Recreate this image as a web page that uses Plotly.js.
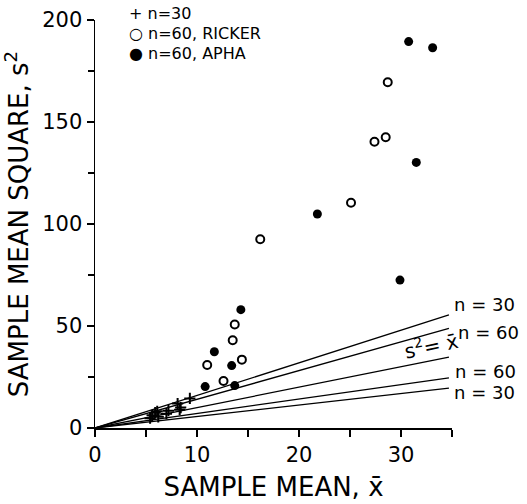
<!DOCTYPE html>
<html>
<head>
<meta charset="utf-8">
<script src="https://cdn.plot.ly/plotly-3.0.1.min.js"></script>
<style>html,body{margin:0;padding:0;background:#fff;}#chart{width:527px;height:504px;}</style>
</head>
<body>
<div id="chart"></div>
<script>
// n=30 samples (crosses)
const n30X = [5.4, 5.6, 5.9, 6.2, 6.1, 7.0, 7.2, 8.1, 8.4, 8.3, 9.3];
const n30Y = [4.8, 6.2, 7.5, 5.5, 8.2, 7.0, 8.5, 12.0, 10.0, 9.0, 14.5];
// n=60, Ricker (open circles)
const rickerX = [11.0, 12.6, 13.5, 13.7, 14.4, 16.2, 25.1, 27.4, 28.5, 28.7];
const rickerY = [30.9, 23.0, 43.0, 50.7, 33.5, 92.5, 110.4, 140.3, 142.5, 169.5];
// n=60, APHA (filled circles)
const aphaX = [10.8, 11.7, 13.4, 13.7, 14.3, 21.8, 29.9, 30.75, 31.5, 33.1];
const aphaY = [20.3, 37.4, 30.6, 20.8, 58.0, 104.9, 72.5, 189.4, 130.2, 186.4];
// reference lines (end points)
const lineX = [0, 34.7];
const upper30Y = [0, 55.4];
const upper60Y = [0, 48.8];
const equalY = [0, 34.7];
const lower60Y = [0, 24.6];
const lower30Y = [0, 19.5];
const lineLabels = ["n = 30", "n = 60", "n = 60", "n = 30"];
const legendLabels = ["+ n=30", "\u25CB n=60, RICKER", "\u25CF n=60, APHA"];

const FONT = "DejaVu Sans, sans-serif";
const lineStyle = {color: "#000", width: 1.3};
function refLine(y, name) {
  return {x: lineX, y: y, mode: "lines", line: lineStyle, name: name, showlegend: false, hoverinfo: "skip"};
}
const traces = [
  refLine(upper30Y, "upper n=30"),
  refLine(upper60Y, "upper n=60"),
  refLine(equalY, "s2 = mean"),
  refLine(lower60Y, "lower n=60"),
  refLine(lower30Y, "lower n=30"),
  {x: n30X, y: n30Y, mode: "markers", name: "n=30", showlegend: false, cliponaxis: false,
   marker: {symbol: "cross-thin-open", size: 8, color: "#000", line: {color: "#000", width: 2}}},
  {x: rickerX, y: rickerY, mode: "markers", name: "n=60, RICKER", showlegend: false, cliponaxis: false,
   marker: {symbol: "circle", size: 8, color: "#fff", line: {color: "#000", width: 2}}},
  {x: aphaX, y: aphaY, mode: "markers", name: "n=60, APHA", showlegend: false, cliponaxis: false,
   marker: {symbol: "circle", size: 9, color: "#000", line: {color: "#000", width: 0}}}
];

const LF = {family: FONT, size: 18, color: "#000"};
const GF = {family: FONT, size: 16, color: "#000"};
const annotations = [
  {x: 1.0, y: 60.3, xref: "paper", yref: "y", text: lineLabels[0], xanchor: "left", yanchor: "middle", showarrow: false, font: LF},
  {x: 1.01, y: 47.0, xref: "paper", yref: "y", text: lineLabels[1], xanchor: "left", yanchor: "middle", showarrow: false, font: LF},
  {x: 1.003, y: 27.6, xref: "paper", yref: "y", text: lineLabels[2], xanchor: "left", yanchor: "middle", showarrow: false, font: LF},
  {x: 1.0, y: 17.6, xref: "paper", yref: "y", text: lineLabels[3], xanchor: "left", yanchor: "middle", showarrow: false, font: LF},
  {x: 32.9, y: 40.5, xref: "x", yref: "y", text: "s<sup>2</sup>= x\u0304", textangle: -12, showarrow: false, font: {family: FONT, size: 20, color: "#000"}},
  {x: 0.09, y: 1.015, xref: "paper", yref: "paper", text: legendLabels[0], xanchor: "left", yanchor: "middle", showarrow: false, font: GF},
  {x: 0.09, y: 0.966, xref: "paper", yref: "paper", text: legendLabels[1], xanchor: "left", yanchor: "middle", showarrow: false, font: GF},
  {x: 0.09, y: 0.918, xref: "paper", yref: "paper", text: legendLabels[2], xanchor: "left", yanchor: "middle", showarrow: false, font: GF}
];

const layout = {
  width: 527, height: 504,
  margin: {l: 95, r: 75, t: 20, b: 76},
  paper_bgcolor: "#fff", plot_bgcolor: "#fff",
  showlegend: false,
  font: {family: FONT, color: "#000"},
  xaxis: {
    range: [0, 35], dtick: 10, tick0: 0, ticks: "outside", ticklen: 7, tickwidth: 1.3, tickcolor: "#000",
    minor: {dtick: 5, ticks: "outside", ticklen: 7, tickwidth: 1.3, tickcolor: "#000"},
    showline: true, linecolor: "#000", linewidth: 1.5, showgrid: false, zeroline: false,
    tickfont: {family: FONT, size: 21, color: "#000"},
    title: {text: "SAMPLE MEAN, x\u0304", font: {family: FONT, size: 26, color: "#000"}, standoff: 12}
  },
  yaxis: {
    range: [0, 200], dtick: 50, tick0: 0, ticks: "outside", ticklen: 7, tickwidth: 1.3, tickcolor: "#000",
    minor: {dtick: 25, ticks: "outside", ticklen: 6, tickwidth: 1.3, tickcolor: "#000"},
    showline: true, linecolor: "#000", linewidth: 1.5, showgrid: false, zeroline: false,
    tickfont: {family: FONT, size: 21, color: "#000"},
    title: {text: "SAMPLE MEAN SQUARE, s<sup>2</sup>", font: {family: FONT, size: 26, color: "#000"}, standoff: 6}
  },
  annotations: annotations
};

Plotly.newPlot("chart", traces, layout, {displayModeBar: false, staticPlot: true});
</script>
</body>
</html>
